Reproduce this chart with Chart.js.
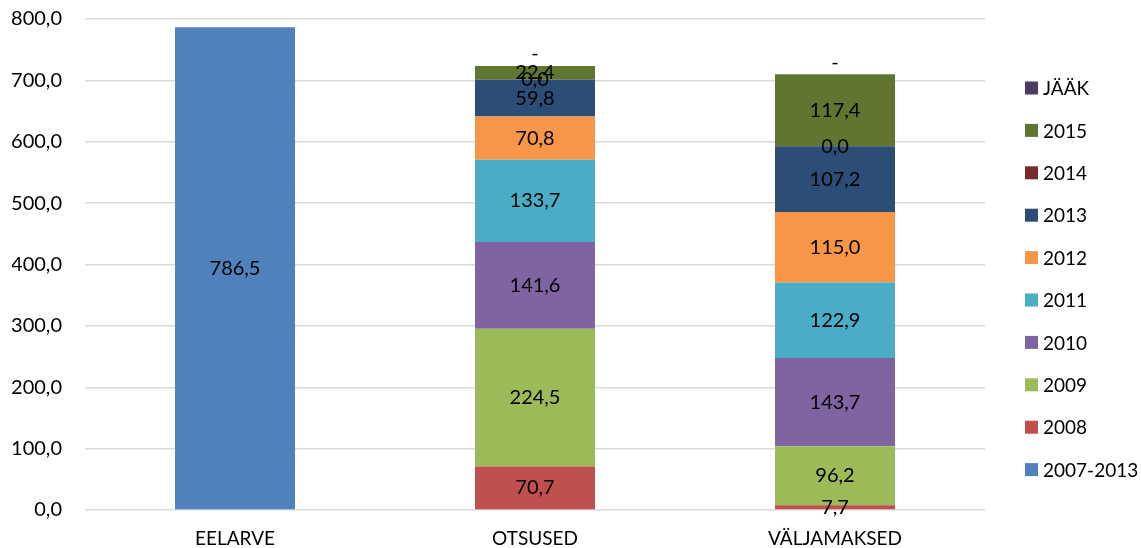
<!DOCTYPE html>
<html>
<head>
<meta charset="utf-8">
<script src="https://cdn.jsdelivr.net/npm/chart.js@4"></script>
<style>
  html, body { margin: 0; padding: 0; background: #fff; }
  #wrap { width: 1141px; height: 548px; }
</style>
</head>
<body>
<div id="wrap"><canvas id="chart" width="1141" height="548"></canvas></div>
<script>
var categories = ['EELARVE', 'OTSUSED', 'VÄLJAMAKSED'];
var yTicks = [0, 100, 200, 300, 400, 500, 600, 700, 800];

var s2007_2013 = [786.5, null, null];
var s2008 = [null, 70.7, 7.7];
var s2009 = [null, 224.5, 96.2];
var s2010 = [null, 141.6, 143.7];
var s2011 = [null, 133.7, 122.9];
var s2012 = [null, 70.8, 115.0];
var s2013 = [null, 59.8, 107.2];
var s2014 = [null, 0.0, 0.0];
var s2015 = [null, 22.4, 117.4];
var sJaak = [null, 0, 0];

var FONT = 'Lato, "Open Sans", sans-serif';

function fmt(v) {
  return v.toFixed(1).replace('.', ',');
}

function ds(label, data, color, dash) {
  return {
    label: label,
    data: data,
    backgroundColor: color,
    borderWidth: 0,
    barPercentage: 0.4,
    categoryPercentage: 1.0,
    dashZero: !!dash
  };
}

// value labels on the segments
var valueLabels = {
  id: 'valueLabels',
  afterDatasetsDraw: function (chart) {
    var ctx = chart.ctx;
    ctx.save();
    ctx.font = '20px ' + FONT;
    ctx.fillStyle = '#000';
    ctx.textAlign = 'center';
    ctx.textBaseline = 'middle';
    chart.data.datasets.forEach(function (d, i) {
      var meta = chart.getDatasetMeta(i);
      meta.data.forEach(function (el, j) {
        var v = d.data[j];
        if (v === null || v === undefined) return;
        if (d.dashZero && v === 0) {
          ctx.fillText('-', el.x, el.y - 12);
        } else {
          ctx.fillText(fmt(v), el.x, (el.y + el.base) / 2);
        }
      });
    });
    ctx.restore();
  }
};

// legend on the right, last series on top
var sideLegend = {
  id: 'sideLegend',
  afterDraw: function (chart) {
    var ctx = chart.ctx;
    var x = chart.chartArea.right + 40;
    var y = 88;
    ctx.save();
    ctx.font = '19px ' + FONT;
    ctx.textAlign = 'left';
    ctx.textBaseline = 'middle';
    var list = chart.data.datasets.slice().reverse();
    list.forEach(function (d) {
      ctx.fillStyle = d.backgroundColor;
      ctx.fillRect(x, y - 6.5, 13, 13);
      ctx.fillStyle = '#000';
      ctx.fillText(d.label, x + 18, y + 1);
      y += 42.4;
    });
    ctx.restore();
  }
};

new Chart(document.getElementById('chart'), {
  type: 'bar',
  data: {
    labels: categories,
    datasets: [
      ds('2007-2013', s2007_2013, '#4F81BD'),
      ds('2008', s2008, '#C0504D'),
      ds('2009', s2009, '#9BBB59'),
      ds('2010', s2010, '#8064A2'),
      ds('2011', s2011, '#4BACC6'),
      ds('2012', s2012, '#F79646'),
      ds('2013', s2013, '#2C4D75'),
      ds('2014', s2014, '#772C2A'),
      ds('2015', s2015, '#5F7530'),
      ds('JÄÄK', sJaak, '#4D3B62', true)
    ]
  },
  options: {
    responsive: false,
    animation: false,
    layout: {
      padding: { left: 12, right: 156, top: 19, bottom: 0 }
    },
    scales: {
      x: {
        stacked: true,
        grid: { display: false, drawTicks: false },
        border: { display: false },
        ticks: {
          color: '#000',
          font: { family: FONT, size: 19 },
          padding: 17
        },
        afterFit: function (scale) { scale.height = 38; }
      },
      y: {
        stacked: true,
        min: 0,
        max: 800,
        afterBuildTicks: function (scale) {
          scale.ticks = yTicks.map(function (v) { return { value: v }; });
        },
        grid: { color: '#d9d9d9', lineWidth: 1.5, drawTicks: false },
        border: { display: false },
        ticks: {
          color: '#000',
          font: { family: FONT, size: 20 },
          padding: 23,
          callback: function (v) { return fmt(v); }
        },
        afterFit: function (scale) {
          scale.width = 73;
          scale.paddingTop = 0;
          scale.paddingBottom = 0;
        }
      }
    },
    plugins: {
      legend: { display: false },
      tooltip: { enabled: false }
    }
  },
  plugins: [valueLabels, sideLegend]
});
</script>
</body>
</html>
